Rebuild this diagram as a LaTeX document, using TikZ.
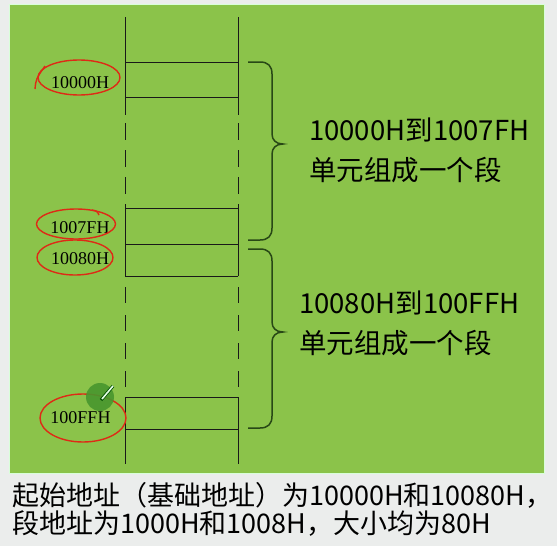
\documentclass[tikz,border=0pt]{standalone}
\usepackage{fontspec}
\setmainfont{Liberation Serif}
\newfontfamily\cjk{Noto Sans CJK SC}
\usepackage{tikz}

\definecolor{bg}{RGB}{235,237,236}
\definecolor{board}{RGB}{139,195,74}
\definecolor{bracecol}{RGB}{40,72,22}
\definecolor{pen}{RGB}{222,42,22}
\definecolor{dot}{RGB}{72,150,46}

\begin{document}
\begin{tikzpicture}[x=1pt, y=-1pt,
    addr/.style={font=\fontsize{18}{18}\selectfont, inner sep=0pt},
    wall/.style={line width=0.9pt, black!90},
    ring/.style={draw=pen, line width=1.4pt},
    brc/.style={draw=bracecol, line width=1.5pt},
    info/.style={font=\cjk\fontsize{27.5}{40}\selectfont, align=left, anchor=west, inner sep=0pt}]
        % 背景
        \fill[bg] (0,0) rectangle (557,546);
        \fill[board, draw=green!15!white, line width=0.8pt] (9,4) rectangle (544,473);

        % メモリの枠
        \foreach \x in {125,238}{
            \draw[wall] (\x,17)--(\x,115);
            \draw[wall, dash pattern=on 17pt off 10pt] (\x,123)--(\x,195);
            \draw[wall] (\x,204)--(\x,276);
            \draw[wall, dash pattern=on 16pt off 12pt] (\x,287)--(\x,388);
            \draw[wall] (\x,397)--(\x,464);
        }
        \foreach \y in {62,97,208,244,276,397,429}
            \draw[wall] (125,\y)--(238,\y);

        % アドレス
        \node[addr] (s1) at (80,83) {10000H};
        \node[addr] (e1) at (80,228) {1007FH};
        \node[addr] (s2) at (80,259) {10080H};
        \node[addr] (e2) at (80.5,418) {100FFH};

        % 赤い丸
        \draw[ring] ([xshift=-1pt, yshift=5.5pt]s1.center) ellipse [x radius=41pt, y radius=17.5pt];
        \draw[ring] (35,89) .. controls (36,79) .. (45,66);
        \draw[ring] ([xshift=-4pt, yshift=4pt]e1.center) ellipse [x radius=39.5pt, y radius=15pt];
        \draw[ring] (92,210) .. controls (97,211) .. (99,215);
        \draw[ring] ([xshift=-5pt, yshift=1.5pt]s2.center) ellipse [x radius=38pt, y radius=17.5pt];
        \draw[ring] ([xshift=2.5pt]e2.center) ellipse [x radius=43pt, y radius=24pt];

        % カーソル
        \fill[dot, opacity=0.9] (100,397) circle[radius=14pt];
        \draw[line width=3.2pt, green!30!black] (101,400)--(113,386);
        \draw[line width=1.6pt, green!10!white] (102,399)--(113,386);

        % 括弧
        \draw[brc] (248,62) -- (260,62) .. controls (268,62) and (272,66) .. (272,74)
            -- (272,134) .. controls (272,140) and (276,144) .. (283,144)
            .. controls (276,144) and (272,148) .. (272,154)
            -- (272,228) .. controls (272,236) and (268,240) .. (260,240) -- (248,240);
        \draw[brc] (248,249) -- (260,249) .. controls (268,249) and (272,253) .. (272,261)
            -- (272,322) .. controls (272,328) and (276,332) .. (283,332)
            .. controls (276,332) and (272,336) .. (272,342)
            -- (272,416) .. controls (272,424) and (268,428) .. (260,428) -- (248,428);

        % 説明文
        \node[info] (t1) at (309,150) {10000H到1007FH\\单元组成一个段};
        \node[info] (t2) at (299,323) {10080H到100FFH\\单元组成一个段};
        \node[info, font=\cjk\fontsize{27}{28}\selectfont] (note) at (12,509)
            {起始地址（基础地址）为10000H和10080H，\\段地址为1000H和1008H，大小均为80H};
\end{tikzpicture}
\end{document}
